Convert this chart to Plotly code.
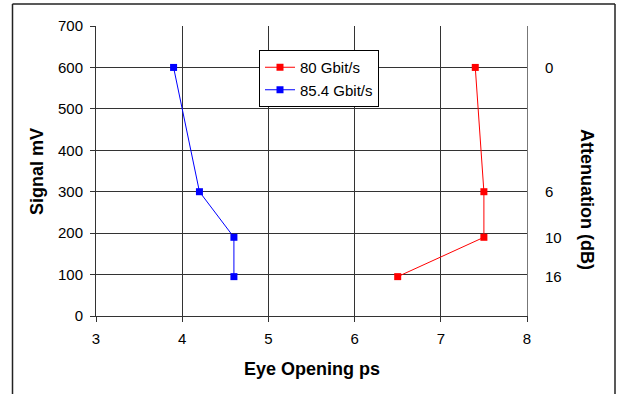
import plotly.graph_objects as go

# Data
series_names = ["80 Gbit/s", "85.4 Gbit/s"]
eye_80 = [7.4, 7.5, 7.5, 6.5]
signal_80 = [600, 300, 190, 95]
eye_854 = [3.9, 4.2, 4.6, 4.6]
signal_854 = [600, 300, 190, 95]
atten_positions = [600, 300, 190, 95]
atten_labels = ["0", "6", "10", "16"]
x_ticks = [3, 4, 5, 6, 7, 8]
y_ticks = [0, 100, 200, 300, 400, 500, 600, 700]

W, H = 617, 394
L, R, T, B = 96, 90, 26, 78
pw = W - L - R
ph = H - T - B

FAM = "Liberation Sans, Arial, sans-serif"

fig = go.Figure()
fig.add_trace(go.Scatter(
    x=eye_80, y=signal_80, name=series_names[0], mode="lines+markers",
    line=dict(color="#ff0000", width=1),
    marker=dict(symbol="square", size=7, color="#ff0000"),
))
fig.add_trace(go.Scatter(
    x=eye_854, y=signal_854, name=series_names[1], mode="lines+markers",
    line=dict(color="#0000ff", width=1),
    marker=dict(symbol="square", size=7, color="#0000ff"),
))
# invisible trace for secondary axis
fig.add_trace(go.Scatter(x=[None], y=[None], yaxis="y2", showlegend=False, hoverinfo="skip"))

fig.update_layout(
    width=W, height=H,
    margin=dict(l=L, r=R, t=T, b=B, autoexpand=False),
    paper_bgcolor="white", plot_bgcolor="white",
    font=dict(family=FAM, size=15, color="black"),
    showlegend=True,
    legend=dict(
        x=(259 - L) / pw, y=(316 - 50) / ph, xanchor="left", yanchor="top",
        bgcolor="white", bordercolor="black", borderwidth=1,
        font=dict(family=FAM, size=15),
        tracegroupgap=0, itemwidth=30,
    ),
    xaxis=dict(
        range=[3, 8], tickvals=x_ticks, showgrid=True, gridcolor="#333333", gridwidth=1,
        showline=True, linecolor="#333333", linewidth=1, ticks="outside", ticklen=5,
        tickcolor="#333333", zeroline=False, automargin=False,
        ticklabelstandoff=4,
    ),
    yaxis=dict(
        range=[0, 700], tickvals=y_ticks, showgrid=True, gridcolor="#333333", gridwidth=1,
        showline=True, linecolor="#333333", linewidth=1, ticks="outside", ticklen=5,
        tickcolor="#333333", zeroline=False, automargin=False,
        ticklabelstandoff=4,
    ),
    yaxis2=dict(
        range=[0, 700], overlaying="y", side="right", tickvals=atten_positions,
        ticktext=atten_labels, showgrid=False, showline=True, linecolor="#777777",
        ticks="", zeroline=False, ticklabelstandoff=14, automargin=False,
    ),
)

fig.add_annotation(
    text="<b>Eye Opening ps</b>", xref="paper", yref="paper",
    x=(312 - L) / pw, y=(316 - 369) / ph, showarrow=False,
    xanchor="center", yanchor="middle",
    font=dict(size=18, family=FAM),
)
fig.add_annotation(
    text="<b>Signal mV</b>", xref="paper", yref="paper",
    x=(37 - L) / pw, y=(316 - 172) / ph, showarrow=False, textangle=-90,
    xanchor="center", yanchor="middle",
    font=dict(size=18, family=FAM),
)
fig.add_annotation(
    text="<b>Attenuation (dB)</b>", xref="paper", yref="paper",
    x=(587 - L) / pw, y=(316 - 199) / ph, showarrow=False, textangle=90,
    xanchor="center", yanchor="middle",
    font=dict(size=18, family=FAM),
)

# outer frame
fx0 = (12.5 - L) / pw
fx1 = (615 - L) / pw
fy_top = (316 - 4) / ph
fy_bot = (316 - 400) / ph
for (x0, y0, x1, y1) in [(fx0, fy_top, fx0, fy_bot), (fx1, fy_top, fx1, fy_bot), (fx0, fy_top, fx1, fy_top)]:
    fig.add_shape(type="line", xref="paper", yref="paper", x0=x0, y0=y0, x1=x1, y1=y1,
                  line=dict(color="#222222", width=1.5))

fig.write_html("out.html", config={"displayModeBar": False},
               post_script="document.body.style.margin='0px';document.body.style.padding='0px';")
